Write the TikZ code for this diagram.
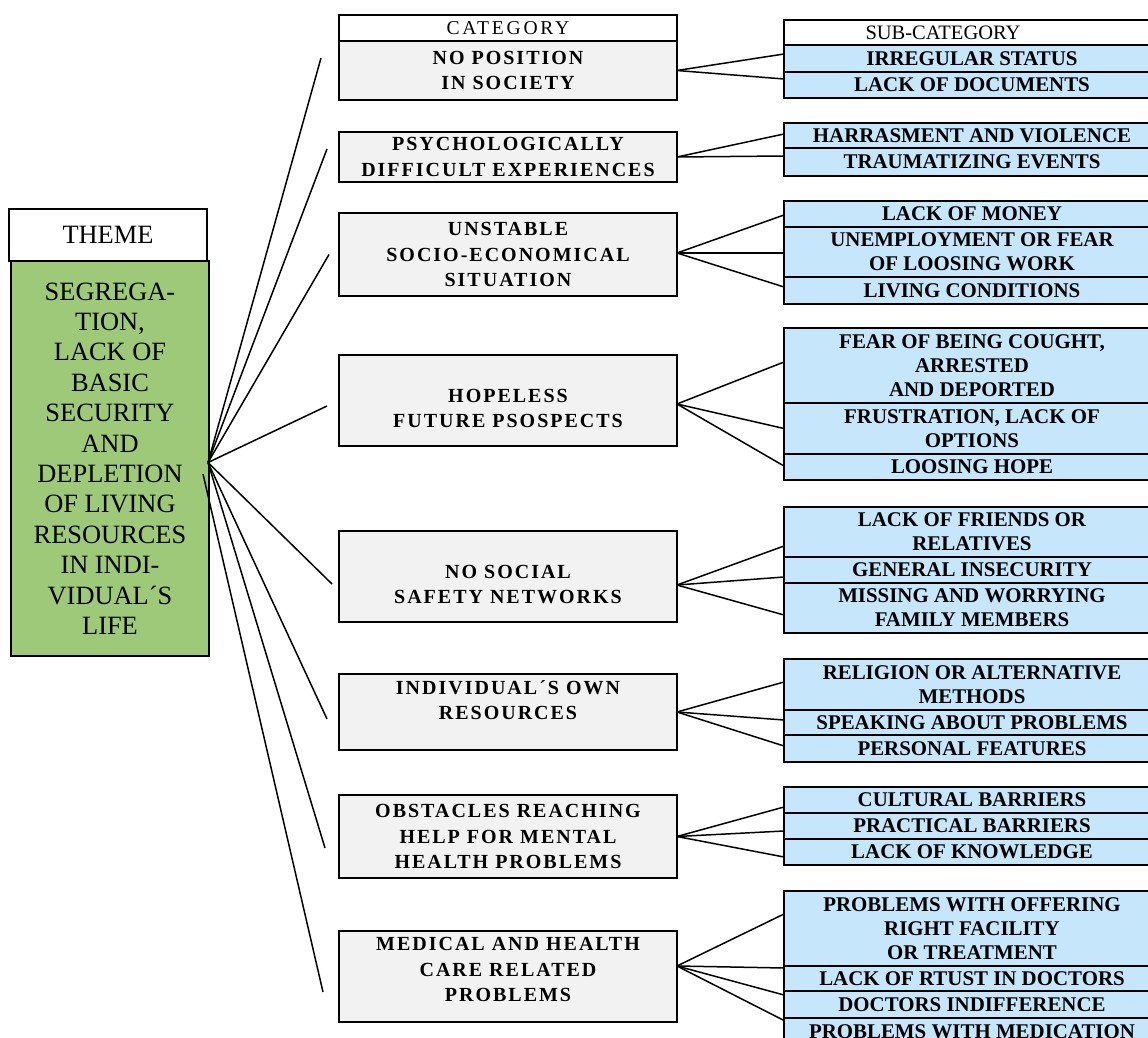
\documentclass[tikz,border=0pt]{standalone}
\usepackage{fontspec}
\setmainfont{Liberation Serif}
\newfontfamily\catfont[LetterSpace=10]{Liberation Serif}
\newfontfamily\catheadfont[LetterSpace=14]{Liberation Serif}
\usetikzlibrary{positioning,calc}

\definecolor{themegreen}{RGB}{158,201,120}
\definecolor{catgray}{RGB}{242,242,242}
\definecolor{subblue}{RGB}{198,230,252}

\tikzset{
  box/.style={draw,line width=1pt,outer sep=0pt,inner xsep=2pt,inner ysep=0pt,align=center},
  themebox/.style={box,minimum width=99pt,font=\fontsize{13.2}{15.2}\selectfont},
  cathead/.style={box,fill=white,minimum width=169pt,minimum height=13pt,font=\catheadfont\fontsize{9.8}{11}\selectfont},
  catbox/.style={box,fill=catgray,minimum width=169pt,font=\catfont\bfseries\fontsize{10}{12.65}\selectfont},
  subhead/.style={box,fill=white,minimum width=188pt,minimum height=12.5pt,font=\fontsize{10.25}{12}\selectfont},
  subbox/.style={box,fill=subblue,minimum width=188pt,font=\bfseries\fontsize{10.45}{12}\selectfont},
  link/.style={line width=0.75pt}
}

\begin{document}
\begin{tikzpicture}[x=0.5pt,y=-0.5pt]
  \clip (0,0) rectangle (1148,1038);
  % theme
  \node[themebox,fill=white,minimum height=26pt] (themehead) at (108,235) {THEME};
  \node[themebox,fill=themegreen,minimum height=197.5pt] (theme) at (110,458.5)
    {SEGREGA-\\TION,\\LACK OF\\BASIC\\SECURITY\\AND\\DEPLETION\\OF LIVING\\RESOURCES\\IN INDI-\\VIDUAL´S\\LIFE};
  % categories
  \node[cathead] (cathd) at (508,28) {CATEGORY};
  \node[catbox,minimum height=29.5pt,below=0pt of cathd] (cat1) {NO POSITION\\IN SOCIETY};
  \node[catbox,minimum height=25pt] (cat2) at (508,157) {PSYCHOLOGICALLY\\DIFFICULT EXPERIENCES};
  \node[catbox,minimum height=41.5pt] (cat3) at (508,254.5) {UNSTABLE\\SOCIO-ECONOMICAL\\SITUATION};
  \node[catbox,minimum height=45.5pt] (cat4) at (508,400.5) {\strut\\[-7pt]HOPELESS\\FUTURE PSOSPECTS};
  \node[catbox,minimum height=45.5pt] (cat5) at (508,576.5) {\strut\\[-7pt]NO SOCIAL\\SAFETY NETWORKS};
  \node[catbox,minimum height=38pt] (cat6) at (508,712) {INDIVIDUAL´S OWN\\RESOURCES\\[-4.5pt]\strut};
  \node[catbox,minimum height=41.5pt] (cat7) at (508,836.5) {OBSTACLES REACHING\\HELP FOR MENTAL\\HEALTH PROBLEMS};
  \node[catbox,minimum height=45.5pt] (cat8) at (508,976.5) {MEDICAL AND HEALTH\\CARE RELATED\\PROBLEMS\\[-9.5pt]\strut};
  % sub-categories
  \node[subhead,anchor=north west] (subhd) at (784,20) {SUB-CATEGORY\hspace*{29pt}};
  \node[subbox,minimum height=13.5pt,below=0pt of subhd] (s1a) {IRREGULAR STATUS};
  \node[subbox,minimum height=13pt,below=0pt of s1a] (s1b) {LACK OF DOCUMENTS};

  \node[subbox,minimum height=12.5pt,anchor=north west] (s2a) at (784,123) {HARRASMENT AND VIOLENCE};
  \node[subbox,minimum height=14pt,below=0pt of s2a] (s2b) {TRAUMATIZING EVENTS};

  \node[subbox,minimum height=13pt,anchor=north west] (s3a) at (784,201) {LACK OF MONEY};
  \node[subbox,minimum height=25pt,below=0pt of s3a] (s3b) {UNEMPLOYMENT OR FEAR\\OF LOOSING WORK};
  \node[subbox,minimum height=13.5pt,below=0pt of s3b] (s3c) {LIVING CONDITIONS};

  \node[subbox,minimum height=37.5pt,anchor=north west] (s4a) at (784,328) {FEAR OF BEING COUGHT,\\ARRESTED\\AND DEPORTED};
  \node[subbox,minimum height=25.5pt,below=0pt of s4a] (s4b) {FRUSTRATION, LACK OF\\OPTIONS};
  \node[subbox,minimum height=13pt,below=0pt of s4b] (s4c) {LOOSING HOPE};

  \node[subbox,minimum height=25pt,anchor=north west] (s5a) at (784,507) {LACK OF FRIENDS OR\\RELATIVES};
  \node[subbox,minimum height=13pt,below=0pt of s5a] (s5b) {GENERAL INSECURITY};
  \node[subbox,minimum height=25pt,below=0pt of s5b] (s5c) {MISSING AND WORRYING\\FAMILY MEMBERS};

  \node[subbox,minimum height=25.5pt,anchor=north west] (s6a) at (784,659) {RELIGION OR ALTERNATIVE\\METHODS};
  \node[subbox,minimum height=12.5pt,below=0pt of s6a] (s6b) {SPEAKING ABOUT PROBLEMS};
  \node[subbox,minimum height=13.5pt,below=0pt of s6b] (s6c) {PERSONAL FEATURES};

  \node[subbox,minimum height=13pt,anchor=north west] (s7a) at (784,787) {CULTURAL BARRIERS};
  \node[subbox,minimum height=13pt,below=0pt of s7a] (s7b) {PRACTICAL BARRIERS};
  \node[subbox,minimum height=13pt,below=0pt of s7b] (s7c) {LACK OF KNOWLEDGE};

  \node[subbox,minimum height=37.5pt,anchor=north west] (s8a) at (784,891) {PROBLEMS WITH OFFERING\\RIGHT FACILITY\\OR TREATMENT};
  \node[subbox,minimum height=12.5pt,below=0pt of s8a] (s8b) {LACK OF RTUST IN DOCTORS};
  \node[subbox,minimum height=13.5pt,below=0pt of s8b] (s8c) {DOCTORS INDIFFERENCE};
  \node[subbox,minimum height=13.5pt,below=0pt of s8c] (s8d) {PROBLEMS WITH MEDICATION};

  % theme -> categories
  \coordinate (hub) at ($(theme.east)+(-1,4)$);
  \foreach \c/\dx/\dy in {cat1/-18/-12.5,cat2/-12/-8,cat3/-10/0,cat4/-12/5.5,cat5/-7/7.5,cat6/-12/7,cat7/-14/11.5}
    \draw[link] (hub) -- ($(\c.west)+(\dx,\dy)$);
  \draw[link] ($(theme.east)+(-6,15.5)$) -- ($(cat8.west)+(-16,15.5)$);

  % categories -> sub-categories
  \foreach \s/\dy in {s1a/-4.5,s1b/-6}
    \draw[link] (cat1.east) -- ($(\s.west)+(0,\dy)$);
  \foreach \s/\dy in {s2a/-1.5,s2b/-6}
    \draw[link] (cat2.east) -- ($(\s.west)+(0,\dy)$);
  \foreach \s/\dy in {s3a/1,s3b/1,s3c/-3.5}
    \draw[link] ($(cat3.east)+(0,-1.5)$) -- ($(\s.west)+(0,\dy)$);
  \foreach \s/\dy in {s4a/-3.5,s4b/0,s4c/-1}
    \draw[link] ($(cat4.east)+(0,3.5)$) -- ($(\s.west)+(0,\dy)$);
  \foreach \s/\dy in {s5a/14,s5b/7,s5c/7}
    \draw[link] ($(cat5.east)+(0,8.5)$) -- ($(\s.west)+(0,\dy)$);
  \foreach \s/\dy in {s6a/-2.5,s6b/-2.5,s6c/-2.5}
    \draw[link] (cat6.east) -- ($(\s.west)+(0,\dy)$);
  \foreach \s/\dy in {s7a/7,s7b/5,s7c/5}
    \draw[link] (cat7.east) -- ($(\s.west)+(0,\dy)$);
  \foreach \s/\dy in {s8a/-14.5,s8b/-10.5,s8c/-9.5,s8d/-11}
    \draw[link] ($(cat8.east)+(0,-10.5)$) -- ($(\s.west)+(0,\dy)$);
\end{tikzpicture}
\end{document}
